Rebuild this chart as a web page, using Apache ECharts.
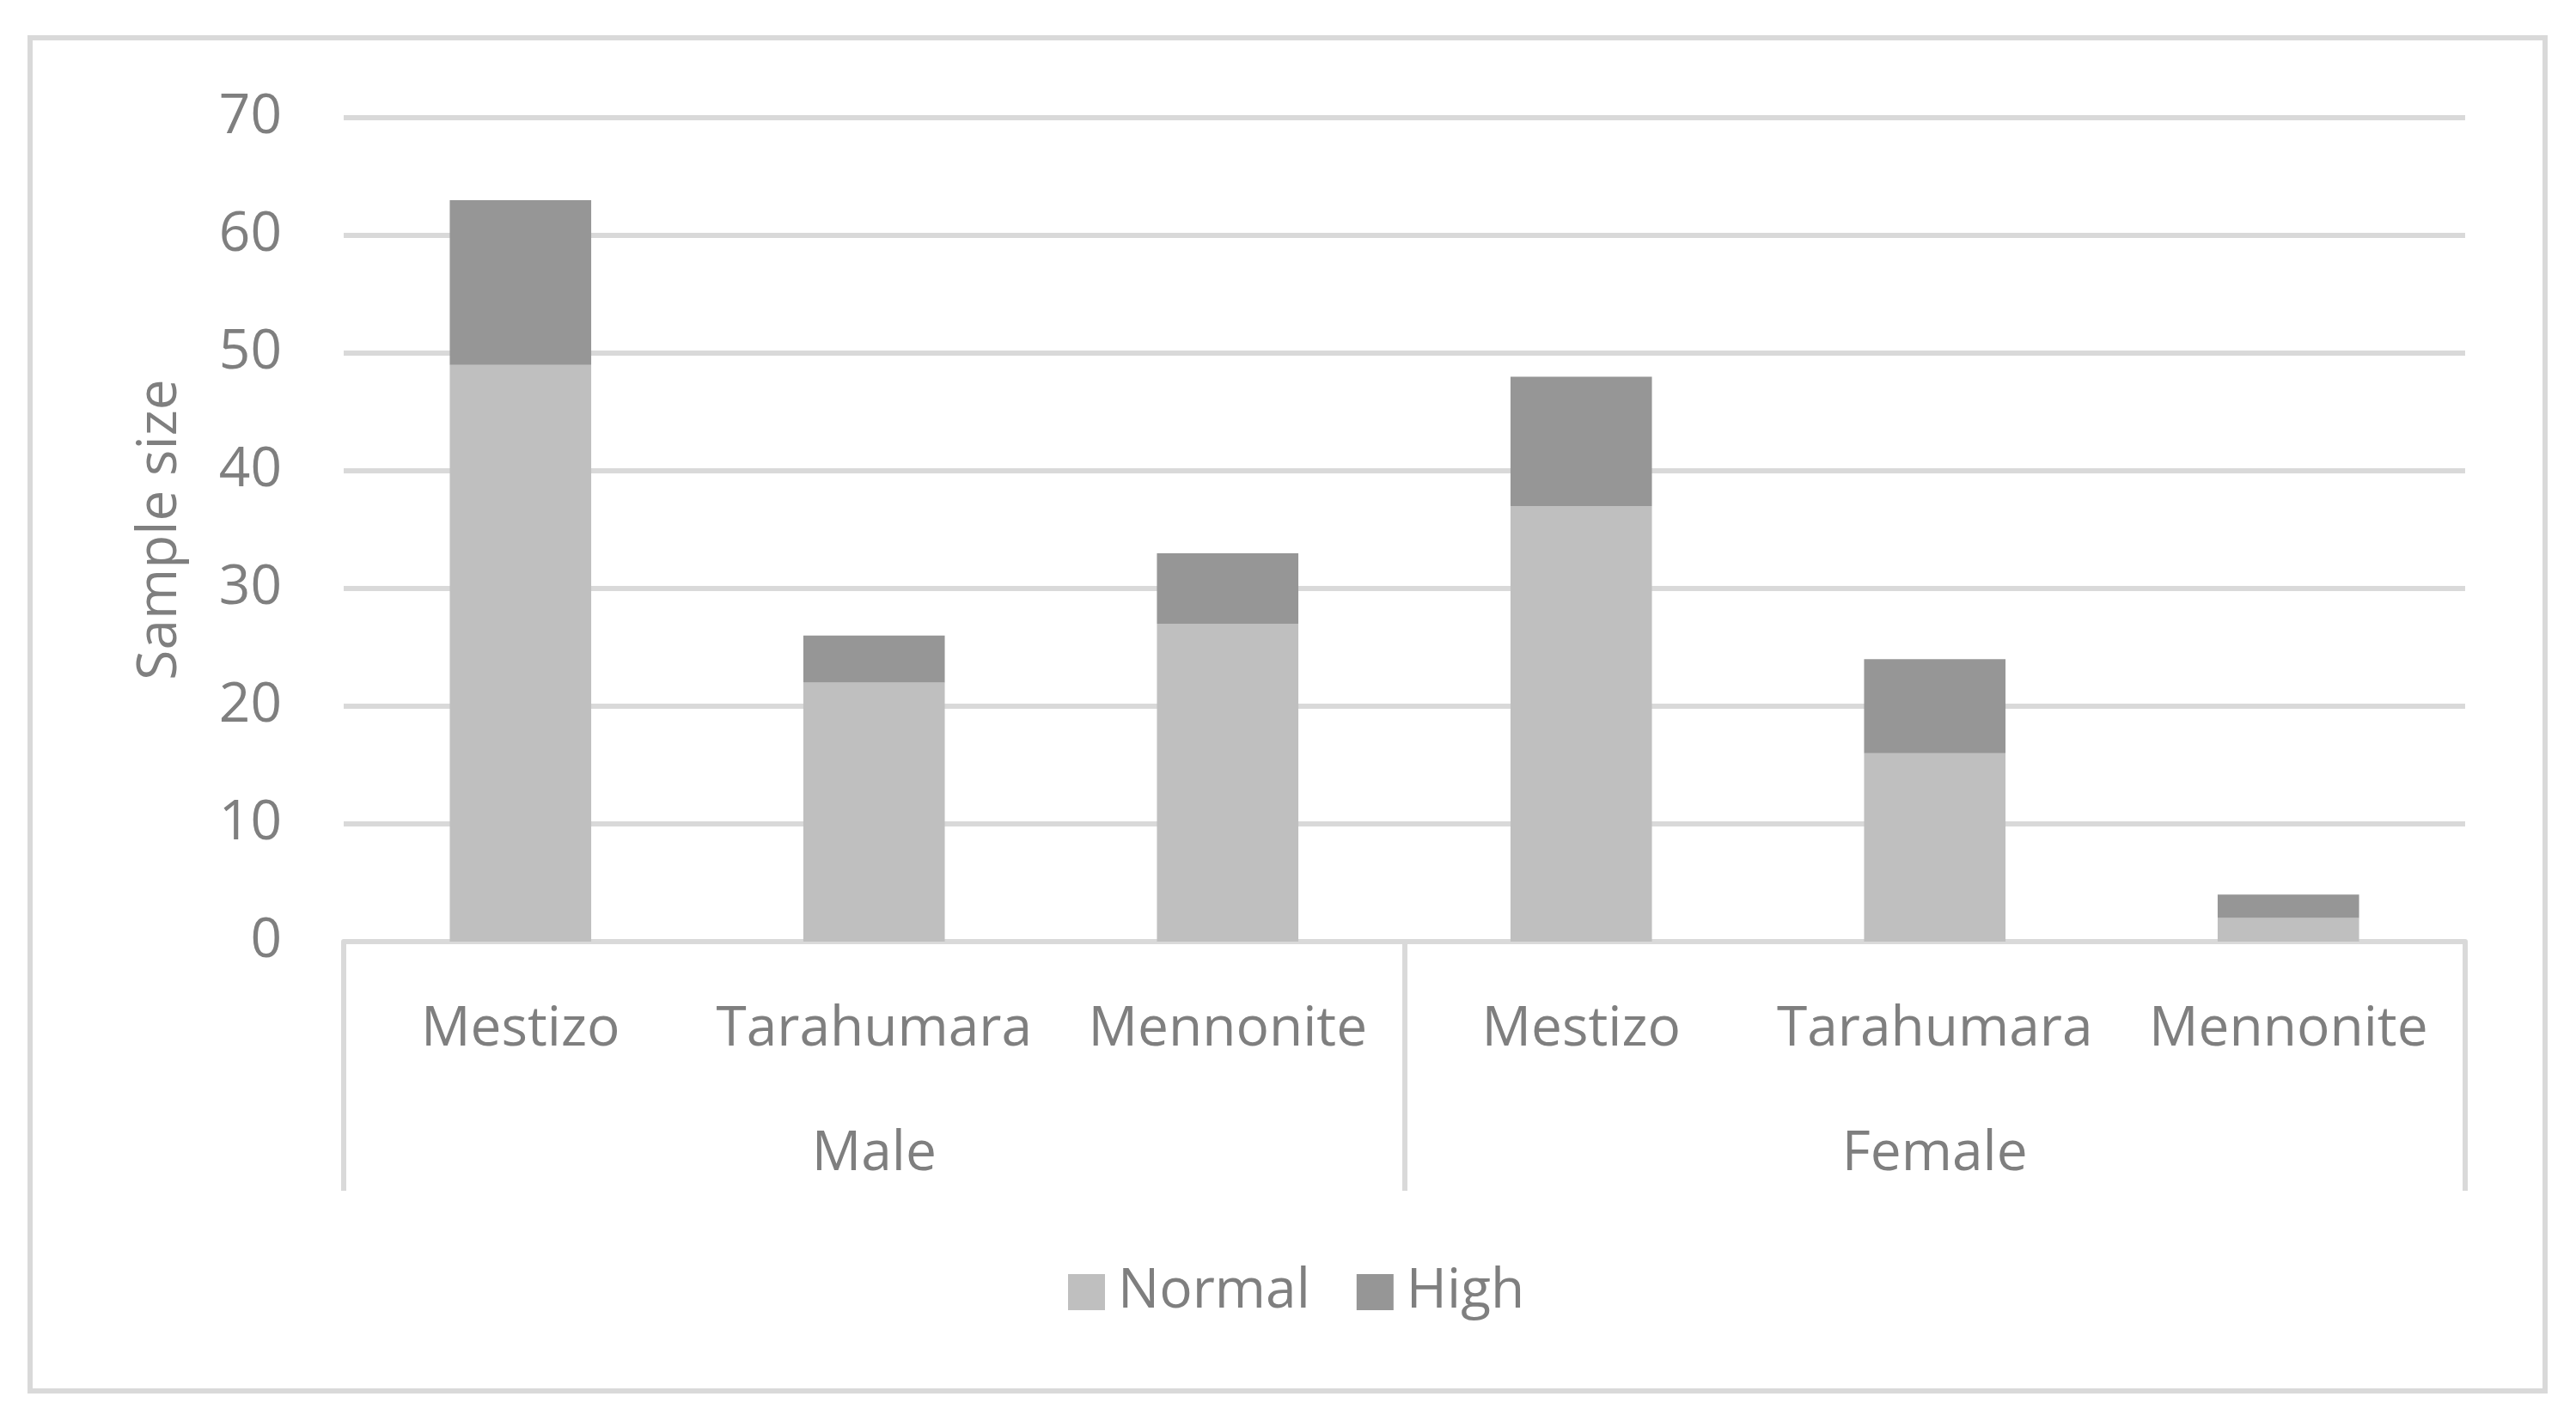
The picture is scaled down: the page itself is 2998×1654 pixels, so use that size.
<!DOCTYPE html>
<html>
<head>
<meta charset="utf-8">
<script src="https://cdn.jsdelivr.net/npm/echarts@6/dist/echarts.min.js"></script>
<style>
html,body{margin:0;padding:0;background:#fff;}
#c{width:2998px;height:1654px;}
</style>
</head>
<body>
<div id="c"></div>
<script>
const groups = ['Male', 'Female'];
const categories = ['Mestizo', 'Tarahumara', 'Mennonite', 'Mestizo', 'Tarahumara', 'Mennonite'];
const normalValues = [49, 22, 27, 37, 16, 2];
const highValues = [14, 4, 6, 11, 8, 2];
const seriesNames = ['Normal', 'High'];
const yTicks = [0, 10, 20, 30, 40, 50, 60, 70];

const FONT = '"Open Sans", "Noto Sans", sans-serif';
const TXT = '#7f7f7f';
const LINE = '#d9d9d9';

const chart = echarts.init(document.getElementById('c'), null, {renderer: 'canvas'});
chart.setOption({
  backgroundColor: '#ffffff',
  animation: false,
  textStyle: {fontFamily: FONT},
  graphic: [{
    type: 'rect',
    shape: {x: 35, y: 44, width: 2927, height: 1575},
    style: {fill: 'none', stroke: LINE, lineWidth: 6},
    silent: true,
    z: -10
  }],
  legend: {
    data: seriesNames,
    left: 1238,
    top: 1467,
    itemWidth: 43,
    itemHeight: 42,
    itemGap: 54,
    icon: 'rect',
    textStyle: {fontFamily: FONT, fontSize: 64, color: TXT, lineHeight: 64, padding: [0, 0, 0, 10]}
  },
  grid: {left: 400, right: 129, top: 137, bottom: 558, containLabel: false},
  xAxis: [{
    type: 'category',
    data: categories,
    position: 'bottom',
    axisLine: {show: true, lineStyle: {color: LINE, width: 6}},
    axisTick: {show: false},
    axisLabel: {
      interval: 0, margin: 103, verticalAlign: 'middle',
      fontFamily: FONT, fontSize: 64, color: TXT, lineHeight: 64
    },
    splitLine: {show: false}
  }, {
    type: 'category',
    data: groups,
    position: 'bottom',
    axisLine: {show: false},
    axisTick: {show: true, interval: 0, length: 290, lineStyle: {color: LINE, width: 6}},
    axisLabel: {
      interval: 0, margin: 248, verticalAlign: 'middle',
      fontFamily: FONT, fontSize: 64, color: TXT, lineHeight: 64
    },
    splitLine: {show: false}
  }],
  yAxis: {
    type: 'value',
    min: yTicks[0],
    max: yTicks[yTicks.length - 1],
    interval: 10,
    name: 'Sample size',
    nameLocation: 'middle',
    nameRotate: 90,
    nameGap: 181,
    nameTextStyle: {fontFamily: FONT, fontSize: 64, color: TXT, lineHeight: 64},
    axisLine: {show: false},
    axisTick: {show: false},
    axisLabel: {margin: 72, fontFamily: FONT, fontSize: 64, color: TXT},
    splitLine: {show: true, lineStyle: {color: LINE, width: 6}}
  },
  series: [{
    name: seriesNames[0],
    type: 'bar',
    stack: 'total',
    xAxisIndex: 0,
    data: normalValues,
    barWidth: '40%',
    itemStyle: {color: '#bfbfbf'}
  }, {
    name: seriesNames[1],
    type: 'bar',
    stack: 'total',
    xAxisIndex: 0,
    data: highValues,
    barWidth: '40%',
    itemStyle: {color: '#969696'}
  }]
});
</script>
</body>
</html>
